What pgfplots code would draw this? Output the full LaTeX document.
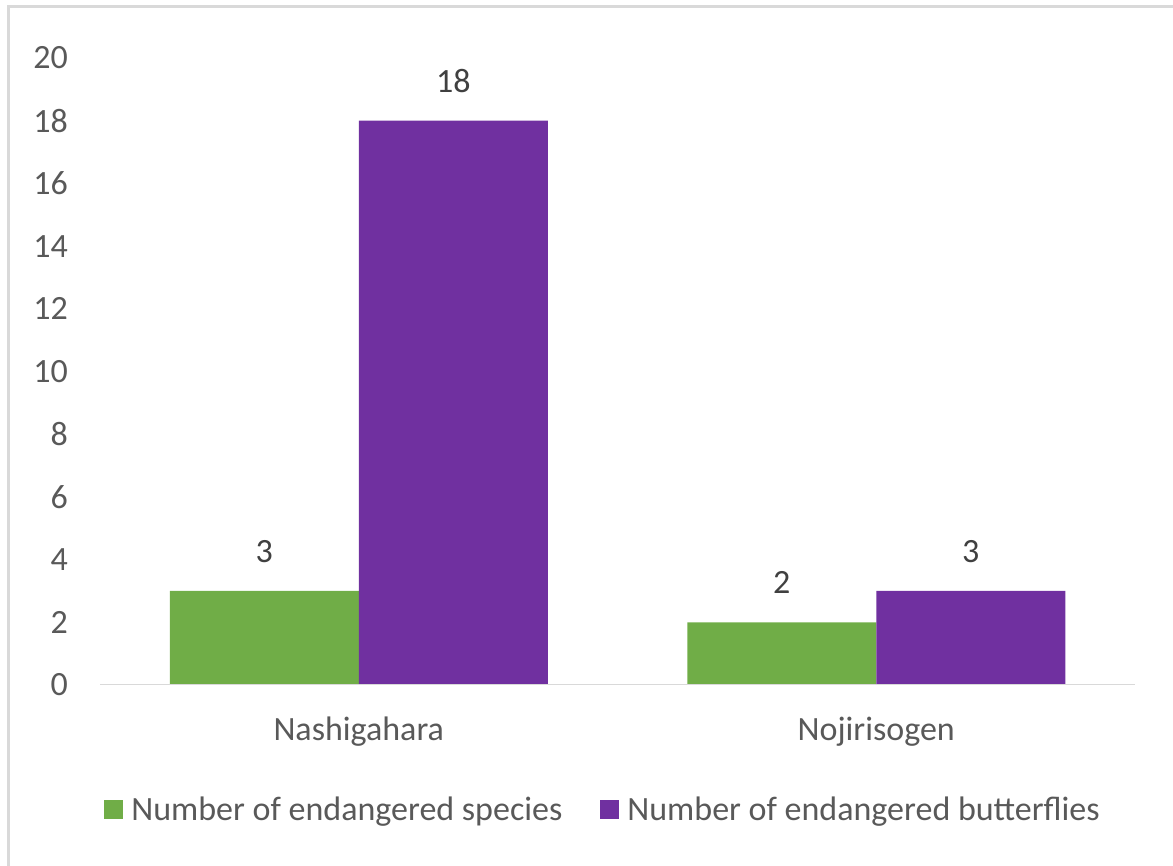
\documentclass[border=0pt]{standalone}
\usepackage{pgfplots}
\pgfplotsset{compat=1.18}
\usepackage{fontspec}
\setmainfont{Carlito}
\definecolor{spgreen}{HTML}{70AD47}
\definecolor{bfpurple}{HTML}{7030A0}
\definecolor{labelgray}{HTML}{595959}
\definecolor{valgray}{HTML}{404040}
\definecolor{framegray}{HTML}{D9D9D9}
\newcommand{\chartfont}{\fontsize{17}{20}\selectfont}
\begin{document}
\begin{tikzpicture}[font=\chartfont]
\path[use as bounding box] (0,0) rectangle (586.5pt,433pt);
% chart frame (top and left edges)
\draw[framegray, line width=1.5pt] (4pt,0pt) -- (4pt,429.5pt) -- (586.5pt,429.5pt);
\begin{axis}[
  at={(50pt,90.5pt)}, anchor=south west,
  scale only axis,
  width=517.5pt, height=313.5pt,
  ybar=0pt, bar width=94.5pt,
  xmin=-0.5, xmax=1.5,
  ymin=0, ymax=20,
  xtick={0,1},
  xticklabels={Nashigahara,Nojirisogen},
  ytick={0,2,...,20},
  axis line style={draw=none},
  tick style={draw=none},
  major tick length=0pt,
  /pgf/number format/assume math mode=true,
  tick label style={font=\chartfont, text=labelgray},
  yticklabel style={xshift=-12.5pt},
  xticklabel style={yshift=-12.5pt},
  nodes near coords,
  every node near coord/.append style={font=\chartfont, text=valgray, inner sep=0pt, yshift=14pt},
  legend columns=2,
  legend style={draw=none, fill=none, at={(0.487,-0.199)}, anchor=center,
    font=\chartfont, text=labelgray,
    /tikz/every even column/.append style={column sep=17pt}},
  legend image code/.code={\fill[#1] (0pt,-4.75pt) rectangle (9.5pt,4.75pt); \path (11.5pt,0pt);},
]
\addplot[fill=spgreen, draw=none] coordinates {(0,3) (1,2)};
\addplot[fill=bfpurple, draw=none] coordinates {(0,18) (1,3)};
\draw[framegray, line width=1pt] (rel axis cs:0,0) -- (rel axis cs:1,0);
\legend{Number of endangered species, Number of endangered butterflies}
\end{axis}
\end{tikzpicture}
\end{document}
